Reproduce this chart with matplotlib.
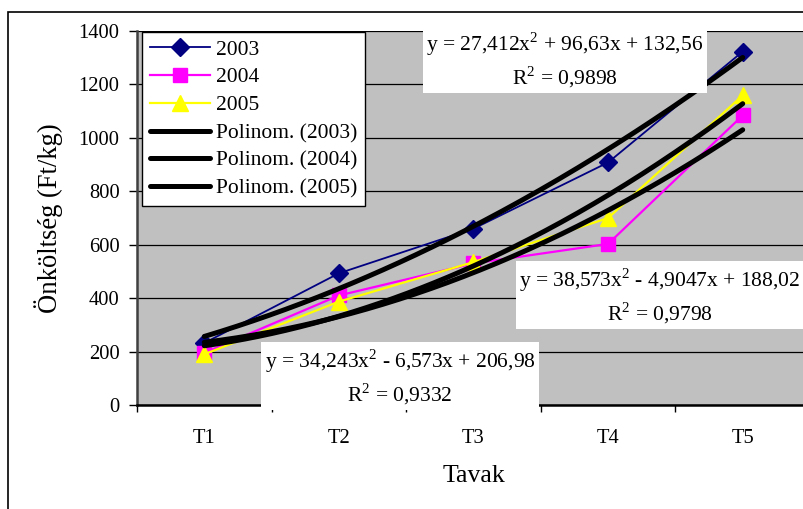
import numpy as np
import matplotlib.pyplot as plt
from matplotlib.patches import Rectangle

plt.rcParams['font.family'] = ['Liberation Serif', 'DejaVu Serif']
plt.rcParams['mathtext.fontset'] = 'custom'
plt.rcParams['mathtext.rm'] = 'Liberation Serif'

# data
tavak = ['T1', 'T2', 'T3', 'T4', 'T5']
y2003 = [232, 493, 660, 908, 1323]
y2004 = [195, 410, 530, 603, 1084]
y2005 = [190, 387, 535, 700, 1159]

# polynomial trendline coefficients (from the equations on the chart)
fit2003 = [27.412, 96.63, 132.56]
fit2004 = [34.243, -6.573, 206.98]
fit2005 = [38.573, -4.9047, 188.02]

eq2003 = 'y = 27,412x$^2$ + 96,63x + 132,56\nR$^2$ = 0,9898'
eq2004 = 'y = 34,243x$^2$ - 6,573x + 206,98\nR$^2$ = 0,9332'
eq2005 = 'y = 38,573x$^2$ - 4,9047x + 188,02\nR$^2$ = 0,9798'

W, H = 804, 509
fig = plt.figure(figsize=(W / 100, H / 100), dpi=100)
ax = fig.add_axes([137 / W, 1 - 405 / H, 673 / W, 374 / H])
ax.set_facecolor('#C0C0C0')

x = np.arange(len(tavak))
ax.plot(x, y2003, color='#000080', lw=1.3, marker='D', ms=9, label='2003', zorder=3)
ax.plot(x, y2004, color='#FF00FF', lw=1.6, marker='s', ms=10, label='2004', zorder=3)
ax.plot(x, y2005, color='#FFFF00', lw=1.6, marker='^', ms=11, label='2005', zorder=3)

xs = np.linspace(1, 5, 200)
for coef, yr in [(fit2003, '2003'), (fit2004, '2004'), (fit2005, '2005')]:
    ax.plot(xs - 1, np.polyval(coef, xs), color='black', lw=3.6,
            solid_capstyle='round', label='Polinom. (%s)' % yr, zorder=4)

ax.set_xlim(-0.5, 4.5)
ax.set_ylim(0, 1400)
ax.set_yticks(np.arange(0, 1401, 200))
ax.yaxis.grid(True, color='black', lw=0.9)
ax.set_axisbelow(True)
ax.tick_params(axis='y', direction='out', length=5.5, width=1, pad=7, labelsize=14.8)

ax.set_xticks(np.arange(-0.5, 4.6, 1))
ax.set_xticklabels([])
ax.set_xticks(x, minor=True)
ax.set_xticklabels(tavak, minor=True)
ax.tick_params(axis='x', which='major', direction='out', length=5, width=1)
ax.tick_params(axis='x', which='minor', length=0, pad=17.5, labelsize=14.8)

for s in ['top', 'right']:
    ax.spines[s].set_visible(False)
ax.spines['left'].set_color('#404040')
ax.spines['left'].set_linewidth(1.8)
ax.spines['bottom'].set_linewidth(1.8)

box = dict(facecolor='white', edgecolor='none', pad=2.5)
ax.text((565 - 137) / 673, (405 - 60) / 374, eq2003, transform=ax.transAxes,
        ha='center', va='center', fontsize=15.5, linespacing=1.3, bbox=box, zorder=6)
ax.text((660 - 137) / 673, (405 - 296) / 374, eq2005, transform=ax.transAxes,
        ha='center', va='center', fontsize=15.5, linespacing=1.3, bbox=box, zorder=6)
ax.text((400 - 137) / 673, (405 - 377) / 374, eq2004, transform=ax.transAxes,
        ha='center', va='center', fontsize=15.5, linespacing=1.3, bbox=box, zorder=6,
        clip_on=False)

leg = ax.legend(loc='upper left', bbox_to_anchor=(142 / W, 1 - 32 / H),
                bbox_transform=fig.transFigure, borderaxespad=0, fontsize=15.5,
                frameon=True, fancybox=False, edgecolor='black', framealpha=1,
                handlelength=2.8, handletextpad=0.3, labelspacing=0.36,
                borderpad=0.35)
leg.get_frame().set_linewidth(1)
leg.set_zorder(7)

fig.text(49 / W, 1 - 218 / H, 'Önköltség (Ft/kg)', rotation=90,
         ha='center', va='center', fontsize=19.2)
fig.text(474 / W, 1 - 476 / H, 'Tavak', ha='center', va='center', fontsize=18.5)

fig.patches.append(Rectangle((8 / W, -0.1), 1.2, 1 - 12 / H + 0.1,
                             transform=fig.transFigure, fill=False,
                             edgecolor='black', lw=1.2))

fig.savefig('out.png', dpi=100)
